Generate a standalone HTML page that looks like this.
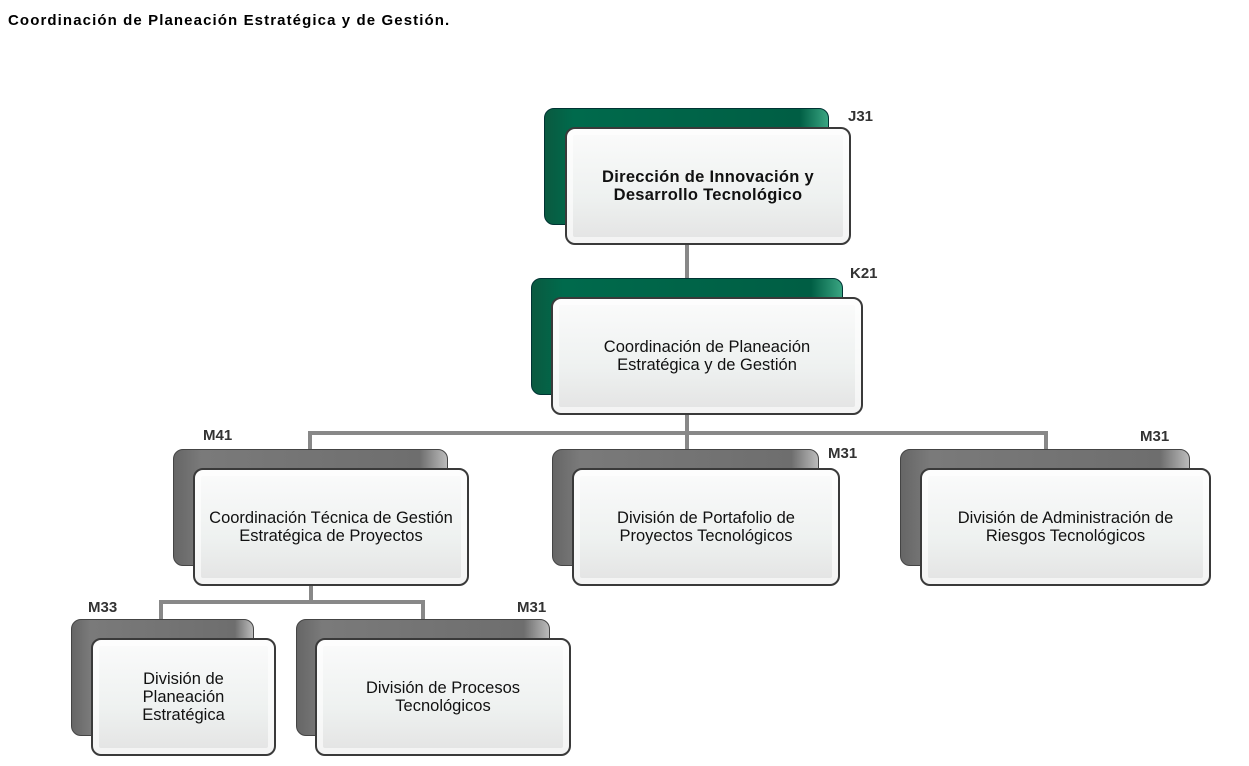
<!DOCTYPE html>
<html><head><meta charset="utf-8"><style>
body{margin:0;width:1249px;height:766px;background:#fff;position:relative;overflow:hidden;font-family:"Liberation Sans",Arial,sans-serif}
.t{position:absolute;left:8px;top:12px;font-size:15px;letter-spacing:1.1px;font-weight:bold;color:#000}
.b{position:absolute;border-radius:10px;box-sizing:border-box}
.g{background:linear-gradient(90deg,#0a5a40,#006a4c 10%,#005e44 90%,#3aa582);border:1px solid #033}
.k{background:linear-gradient(90deg,#666,#7a7a7a 10%,#6e6e6e 90%,#bbb);border:1px solid #444}
.f{background:linear-gradient(180deg,#fbfbfb,#eef1f0 60%,#e3e3e3);border:2px solid #3a3a3a;display:flex;align-items:center;justify-content:center;text-align:center;font-size:16.5px;line-height:18px;color:#111;box-shadow:inset 0 0 0 6px rgba(255,255,255,.6);white-space:nowrap}
.l{position:absolute;font-size:15px;font-weight:bold;color:#333}
.h{position:absolute;background:#888}
</style></head><body>
<div class="t">Coordinación de Planeación Estratégica y de Gestión.</div>
<div class="h" style="left:685px;top:244px;width:4px;height:54px"></div>
<div class="h" style="left:685px;top:414px;width:4px;height:20px"></div>
<div class="h" style="left:308px;top:431px;width:740px;height:4px"></div>
<div class="h" style="left:308px;top:431px;width:4px;height:20px"></div>
<div class="h" style="left:685px;top:431px;width:4px;height:20px"></div>
<div class="h" style="left:1044px;top:431px;width:4px;height:20px"></div>
<div class="h" style="left:309px;top:585px;width:4px;height:18px"></div>
<div class="h" style="left:159px;top:600px;width:266px;height:4px"></div>
<div class="h" style="left:159px;top:600px;width:4px;height:20px"></div>
<div class="h" style="left:421px;top:600px;width:4px;height:20px"></div>

<div class="b g" style="left:544px;top:108px;width:285px;height:117px"></div>
<div class="b f" style="left:565px;top:127px;width:286px;height:118px;font-weight:bold;letter-spacing:0.3px">Dirección de Innovación y<br>Desarrollo Tecnológico</div>
<div class="l" style="left:848px;top:108px">J31</div>

<div class="b g" style="left:531px;top:278px;width:312px;height:117px"></div>
<div class="b f" style="left:551px;top:297px;width:312px;height:118px">Coordinación de Planeación<br>Estratégica y de Gestión</div>
<div class="l" style="left:850px;top:265px">K21</div>

<div class="b k" style="left:173px;top:449px;width:275px;height:117px"></div>
<div class="b f" style="left:193px;top:468px;width:276px;height:118px">Coordinación Técnica de Gestión<br>Estratégica de Proyectos</div>
<div class="l" style="left:203px;top:427px">M41</div>

<div class="b k" style="left:552px;top:449px;width:267px;height:117px"></div>
<div class="b f" style="left:572px;top:468px;width:268px;height:118px">División de Portafolio de<br>Proyectos Tecnológicos</div>
<div class="l" style="left:828px;top:445px">M31</div>

<div class="b k" style="left:900px;top:449px;width:290px;height:117px"></div>
<div class="b f" style="left:920px;top:468px;width:291px;height:118px">División de Administración de<br>Riesgos Tecnológicos</div>
<div class="l" style="left:1140px;top:428px">M31</div>

<div class="b k" style="left:71px;top:619px;width:183px;height:117px"></div>
<div class="b f" style="left:91px;top:638px;width:185px;height:118px">División de<br>Planeación<br>Estratégica</div>
<div class="l" style="left:88px;top:599px">M33</div>

<div class="b k" style="left:296px;top:619px;width:254px;height:117px"></div>
<div class="b f" style="left:315px;top:638px;width:256px;height:118px">División de Procesos<br>Tecnológicos</div>
<div class="l" style="left:517px;top:599px">M31</div>
</body></html>
